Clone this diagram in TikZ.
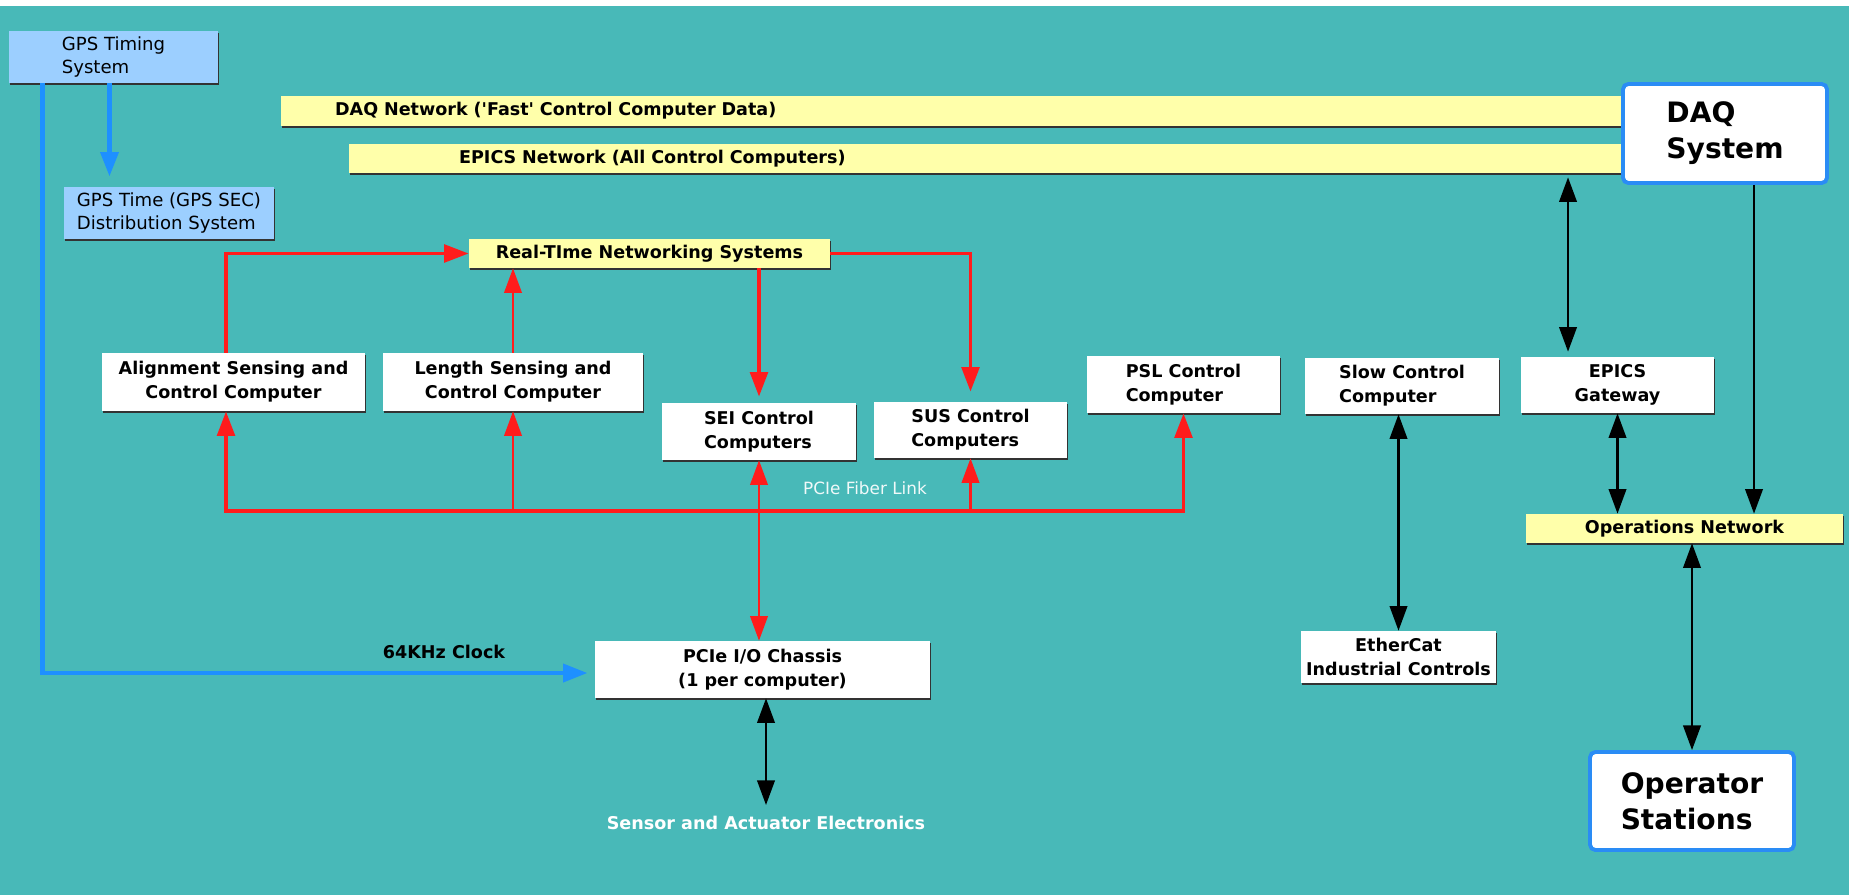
\documentclass[tikz,border=0pt]{standalone}
\usepackage{fontspec}
\setmainfont{DejaVu Sans}
\usepackage{tikz}
\usetikzlibrary{arrows.meta, positioning, shadows}
\definecolor{cteal}{HTML}{48B9B8}
\definecolor{cgps}{HTML}{9CCFFF}
\definecolor{cnet}{HTML}{FFFFAA}
\definecolor{cblue}{HTML}{1E90FF}
\definecolor{cred}{HTML}{FF1C1C}
\definecolor{cframe}{HTML}{2A8CF5}
\newcommand{\boxfont}{\fontsize{10}{13.6}\selectfont\bfseries}
\newcommand{\gpsfont}{\fontsize{10.3}{13.6}\selectfont}
\newcommand{\bigfont}{\fontsize{16}{20.5}\selectfont\bfseries}
\tikzset{
  box/.style={rectangle, fill=white, text=black, inner sep=0pt, font=\boxfont, align=center,
              drop shadow={shadow xshift=0.7pt, shadow yshift=-0.9pt, fill=black!80, opacity=1}},
  gpsbox/.style={box, fill=cgps, font=\gpsfont, align=left},
  bar/.style={box, fill=cnet},
  bigbox/.style={rectangle, rounded corners=3pt, draw=cframe, line width=2.2pt, fill=white,
                 text=black, font=\bigfont, align=left},
  lbl/.style={font=\boxfont},
  blueflow/.style={-{Triangle[length=14pt, width=10pt]}, draw=cblue, line width=2.8pt},
  redflow/.style={-{Triangle[length=14pt, width=10pt]}, draw=cred, line width=2.2pt},
  redboth/.style={{Triangle[length=14pt, width=10pt]}-{Triangle[length=14pt, width=10pt]}, draw=cred, line width=2.2pt},
  thinred/.style={redflow, line width=1.2pt},
  thinredboth/.style={redboth, line width=1.2pt},
  blackflow/.style={-{Triangle[length=14pt, width=10pt]}, draw=black, line width=1.2pt},
  blackboth/.style={{Triangle[length=14pt, width=10pt]}-{Triangle[length=14pt, width=10pt]}, draw=black, line width=1.2pt}
}
\begin{document}
\begin{tikzpicture}[x=0.02cm, y=-0.02cm]
  \fill[cteal] (0,6) rectangle (1849,895);
  \fill[white] (0,0) rectangle (1849,6);
  \useasboundingbox (0,0) rectangle (1849,895);

  \node[gpsbox, minimum width=4.18cm, minimum height=1.04cm] (gps) at (113.5,57) {GPS Timing\\ System};
  \node[gpsbox, minimum width=4.2cm, minimum height=1.04cm] (gpstime) at (169,213) {GPS Time (GPS SEC)\\Distribution System};

  \node[bar, minimum width=26.82cm, minimum height=0.6cm, text width=24.66cm, inner xsep=1.08cm, align=left] (daqnet) at (951.5,111) {DAQ Network (\textquotesingle Fast\textquotesingle{} Control Computer Data)};
  \node[bar, minimum width=25.46cm, minimum height=0.58cm, text width=21.06cm, inner xsep=2.2cm, align=left] (epicsnet) at (985.5,158.5) {EPICS Network (All Control Computers)};
  \node[bigbox, minimum width=4.08cm, minimum height=1.98cm] (daq) at (1725,133.5) {DAQ\\System};

  \node[bar, minimum width=7.22cm, minimum height=0.58cm] (rts) at (649.5,253.5) {Real-TIme Networking Systems};
  \node[box, minimum width=5.26cm, minimum height=1.16cm] (asc) at (233.5,382) {Alignment Sensing and\\Control Computer};
  \node[box, minimum width=5.2cm, minimum height=1.16cm] (lsc) at (513,382) {Length Sensing and\\Control Computer};
  \node[box, align=left, minimum width=3.88cm, minimum height=1.14cm] (sei) at (759,431.5) {SEI Control\\Computers};
  \node[box, align=left, minimum width=3.86cm, minimum height=1.12cm] (sus) at (970.5,430) {SUS Control\\Computers};
  \node[box, align=left, minimum width=3.86cm, minimum height=1.14cm] (psl) at (1183.5,384.5) {PSL Control\\Computer};
  \node[box, align=left, minimum width=3.88cm, minimum height=1.12cm] (slow) at (1402,386) {Slow Control\\Computer};
  \node[box, minimum width=3.86cm, minimum height=1.12cm] (gw) at (1617.5,385) {EPICS\\Gateway};
  \node[bar, minimum width=6.34cm, minimum height=0.58cm] (ops) at (1684.5,528.5) {Operations Network};
  \node[box, minimum width=6.7cm, minimum height=1.14cm] (chassis) at (762.5,669.5) {PCIe I/O Chassis\\(1 per computer)};
  \node[box, minimum width=3.9cm, minimum height=1.04cm] (ethercat) at (1398.5,657) {EtherCat\\Industrial Controls};
  \node[bigbox, minimum width=4.08cm, minimum height=1.96cm] (opst) at (1692,801) {Operator\\Stations};

  \node[lbl, text=white] (sensor) at (766,823) {Sensor and Actuator Electronics};
  \node[font=\fontsize{9.6}{12}\selectfont, text=white!92!cteal] (fiber) at (865,488) {PCIe Fiber Link};
  \node[lbl] (clock) at (444,652) {64KHz Clock};

  \coordinate (bus) at (0,511);
  \coordinate (gpsx) at ([xshift=-0.08cm]gps.south);
  \coordinate (clk) at ([xshift=0.68cm]gps.south west);
  \coordinate (ascx) at ([xshift=-0.15cm]asc.north);
  \coordinate (ascy) at ([xshift=-0.15cm]asc.south);
  \coordinate (epx) at ([xshift=-0.99cm]gw.north);
  \coordinate (daqx) at ([xshift=0.58cm]daq.south);

  \draw[blueflow, shorten >=0.2cm] (gpsx) -- (gpsx |- gpstime.north);
  \draw[blueflow, shorten >=0.14cm] (clk) |- ([yshift=-0.07cm]chassis.west);

  \draw[redflow] (ascx) |- (rts.west);
  \draw[thinred] (lsc.north) -- (lsc.north |- rts.south);
  \draw[redflow, shorten >=0.12cm] (rts.south -| sei.north) -- (sei.north);
  \draw[redflow, shorten >=0.2cm] (rts.east) -| (sus.north);
  \draw[redboth] (ascy) |- (bus -| psl.south) -- (psl.south);
  \draw[thinred] (lsc.south |- bus) -- (lsc.south);
  \draw[thinred] (sus.south |- bus) -- (sus.south);
  \draw[thinredboth] (sei.south) -- (sei.south |- chassis.north);

  \draw[blackboth, shorten <=0.1cm, shorten >=0.08cm] (epx) -- (epx |- epicsnet.south);
  \draw[blackflow] (daqx) -- (daqx |- ops.north);
  \draw[blackboth] (gw.south) -- (gw.south |- ops.north);
  \draw[blackboth] (opst.north |- ops.south) -- (opst.north);
  \draw[blackboth] (ethercat.north |- slow.south) -- (ethercat.north);
  \draw[blackboth, shorten >=0.1cm] (sensor.north |- chassis.south) -- (sensor.north);
\end{tikzpicture}
\end{document}
